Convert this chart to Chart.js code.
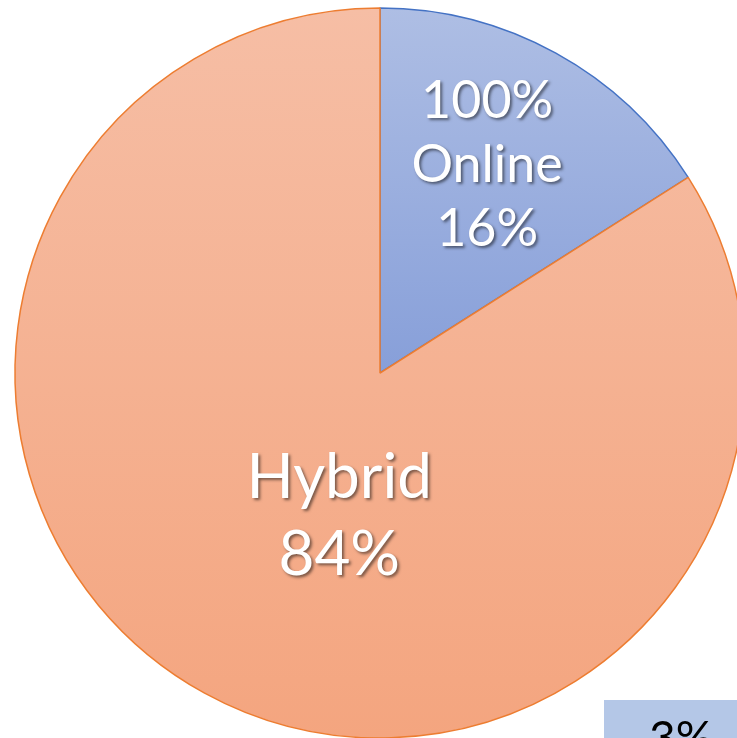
<!DOCTYPE html>
<html>
<head>
<meta charset="utf-8">
<script src="https://cdn.jsdelivr.net/npm/chart.js@4"></script>
<style>
  html, body { margin: 0; padding: 0; background: #fff; overflow: hidden; }
  #wrap { width: 737px; height: 738px; overflow: hidden; position: relative; }
  canvas { display: block; }
</style>
</head>
<body>
<div id="wrap">
  <canvas id="pie" width="760" height="746"></canvas>
</div>
<script>
// chart data
const categories = ['100% Online', 'Hybrid'];
const labelLines = [['100%', 'Online'], ['Hybrid']];
const shares = [16, 84];
const cornerLabel = '3%';

const topColors = ['#AEBEE4', '#F6BEA5'];
const bottomColors = ['#879FD9', '#F4A57F'];
const edgeColors = ['#4472C4', '#ED7D31'];
const pieRadius = 365;

function sliceFill(ctx) {
  const chart = ctx.chart;
  const area = chart.chartArea;
  const i = ctx.dataIndex;
  if (!area) return topColors[i];
  const cy = (area.top + area.bottom) / 2;
  const r = pieRadius;
  // blue slice only reaches the centre, orange spans the whole disc
  const y1 = i === 0 ? cy : cy + r;
  const g = chart.ctx.createLinearGradient(0, cy - r, 0, y1);
  g.addColorStop(0, topColors[i]);
  g.addColorStop(1, bottomColors[i]);
  return g;
}

// where each label sits: fraction of radius, nudge of angle (deg)
const labelSpots = [
  { frac: 0.64, nudge: -1.5, size: 52, gap: 64 },
  { frac: 0.41, nudge: -13, size: 62, gap: 77 }
];

const sliceLabels = {
  id: 'sliceLabels',
  afterDatasetsDraw(chart) {
    const ctx = chart.ctx;
    const meta = chart.getDatasetMeta(0);
    meta.data.forEach((arc, i) => {
      const spot = labelSpots[i];
      const mid = (arc.startAngle + arc.endAngle) / 2 + spot.nudge * Math.PI / 180;
      const d = arc.outerRadius * spot.frac;
      const x = arc.x + Math.cos(mid) * d;
      const y = arc.y + Math.sin(mid) * d;
      const lines = labelLines[i].concat([shares[i] + '%']);
      ctx.save();
      ctx.font = spot.size + 'px Lato';
      ctx.textAlign = 'center';
      ctx.textBaseline = 'middle';
      ctx.fillStyle = '#fff';
      ctx.shadowColor = 'rgba(0,0,0,0.5)';
      ctx.shadowOffsetX = 2;
      ctx.shadowOffsetY = 2;
      ctx.shadowBlur = 3;
      const start = y - (lines.length - 1) * spot.gap / 2;
      lines.forEach((t, k) => ctx.fillText(t, x, start + k * spot.gap));
      ctx.restore();
    });

    // piece of the next box peeking in at the bottom right
    ctx.save();
    ctx.fillStyle = '#B4C7E7';
    ctx.fillRect(604, 700, 160, 50);
    ctx.fillStyle = '#000';
    ctx.font = '46px Lato';
    ctx.textAlign = 'left';
    ctx.textBaseline = 'alphabetic';
    ctx.fillText(cornerLabel, 649, 754);
    ctx.restore();
  }
};

new Chart(document.getElementById('pie'), {
  type: 'pie',
  data: {
    labels: categories,
    datasets: [{
      data: shares,
      backgroundColor: sliceFill,
      borderColor: edgeColors,
      borderWidth: 1.5
    }]
  },
  options: {
    responsive: false,
    animation: false,
    radius: pieRadius,
    layout: { padding: 0 },
    plugins: {
      legend: { display: false },
      tooltip: { enabled: false }
    }
  },
  plugins: [sliceLabels]
});
</script>
</body>
</html>
